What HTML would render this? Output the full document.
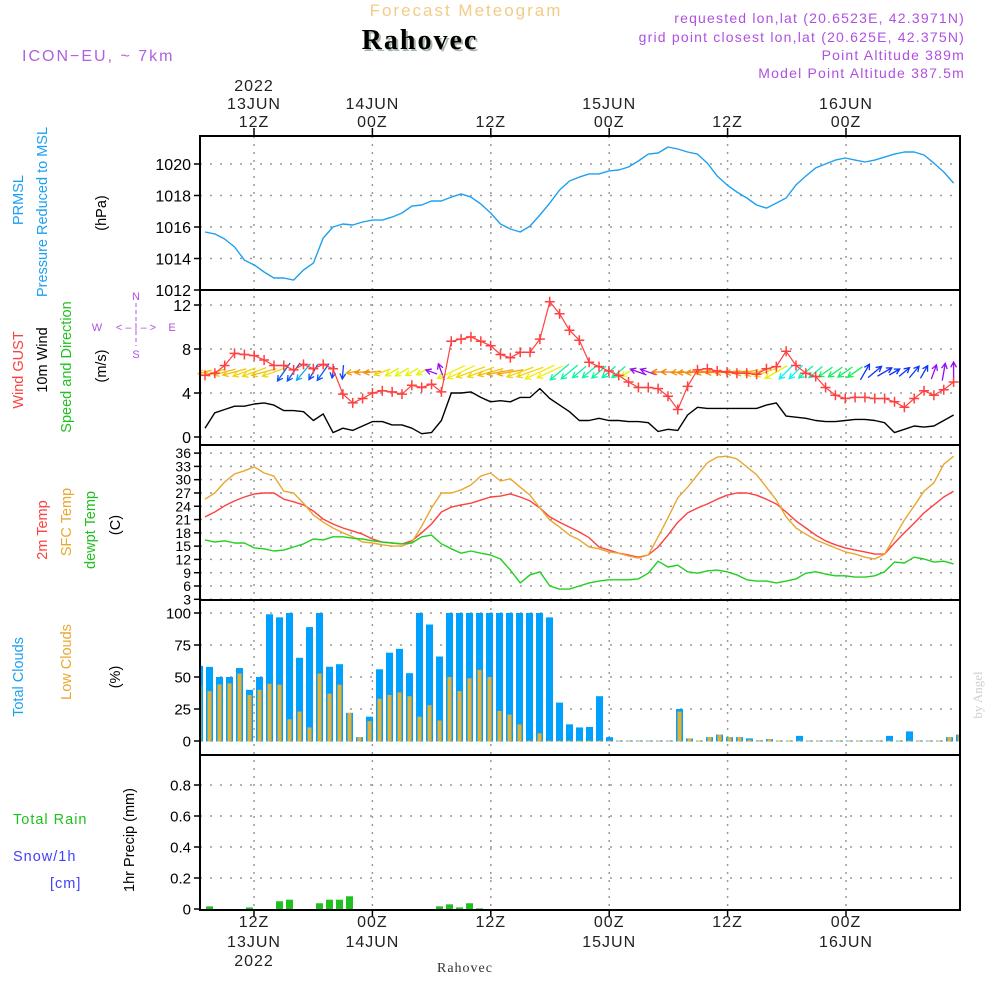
<!DOCTYPE html>
<html><head><meta charset="utf-8">
<style>
html,body{margin:0;padding:0;background:#fff;}
svg{display:block;font-family:"Liberation Sans",sans-serif;}
</style></head>
<body>
<svg id="chart" width="1000" height="1000" viewBox="0 0 1000 1000" xmlns="http://www.w3.org/2000/svg">
<g>
<text x="466" y="16" text-anchor="middle" font-size="17" fill="#f2cc88" letter-spacing="2">Forecast Meteogram</text>
<text x="422" y="51" text-anchor="middle" font-size="28" font-weight="bold" font-family="Liberation Serif,serif" fill="#a8b8a8" letter-spacing="2">Rahovec</text>
<text x="420" y="49" text-anchor="middle" font-size="28" font-weight="bold" font-family="Liberation Serif,serif" fill="#000" letter-spacing="2">Rahovec</text>
<text x="22" y="61" font-size="16" fill="#b060e0" letter-spacing="2">ICON−EU, ~ 7km</text>
<g font-size="14" fill="#b050e0" text-anchor="end" letter-spacing="1.2">
<text x="965" y="23">requested lon,lat (20.6523E, 42.3971N)</text>
<text x="965" y="42">grid point closest lon,lat (20.625E, 42.375N)</text>
<text x="965" y="60">Point Altitude 389m</text>
<text x="965" y="78">Model Point Altitude 387.5m</text>
</g>
</g>
<g id="grid"></g>
<g id="marks"></g>
<g id="axes"></g>
<g font-size="14.5">
<text transform="translate(23,200) rotate(-90)" text-anchor="middle" fill="#1ea0f0">PRMSL</text>
<text transform="translate(47,212) rotate(-90)" text-anchor="middle" fill="#1ea0f0">Pressure Reduced to MSL</text>
<text transform="translate(106,213) rotate(-90)" text-anchor="middle" fill="#000">(hPa)</text>
<text transform="translate(23,370) rotate(-90)" text-anchor="middle" fill="#ff4040">Wind GUST</text>
<text transform="translate(47,360) rotate(-90)" text-anchor="middle" fill="#000">10m Wind</text>
<text transform="translate(71,367) rotate(-90)" text-anchor="middle" fill="#20c020">Speed and Direction</text>
<text transform="translate(106,366) rotate(-90)" text-anchor="middle" fill="#000">(m/s)</text>
<g font-size="11" fill="#b050e0">
<text x="97" y="331" text-anchor="middle">W</text><text x="172" y="331" text-anchor="middle">E</text>
<text x="136" y="300" text-anchor="middle">N</text><text x="136" y="358" text-anchor="middle">S</text>
<text x="136" y="331" text-anchor="middle">&lt; – | – &gt;</text>
<line x1="136" y1="303" x2="136" y2="346" stroke="#b050e0" stroke-dasharray="4,3"/>
</g>
<text transform="translate(47,530) rotate(-90)" text-anchor="middle" fill="#ff4040">2m Temp</text>
<text transform="translate(71,522) rotate(-90)" text-anchor="middle" fill="#e8a830">SFC Temp</text>
<text transform="translate(95,530) rotate(-90)" text-anchor="middle" fill="#20c020">dewpt Temp</text>
<text transform="translate(120,525) rotate(-90)" text-anchor="middle" fill="#000">(C)</text>
<text transform="translate(23,677) rotate(-90)" text-anchor="middle" fill="#1ea0f0">Total Clouds</text>
<text transform="translate(71,662) rotate(-90)" text-anchor="middle" fill="#e8a830">Low Clouds</text>
<text transform="translate(120,677) rotate(-90)" text-anchor="middle" fill="#000">(%)</text>
<text x="13" y="824" fill="#20c020" letter-spacing="1">Total  Rain</text>
<text x="13" y="861" fill="#4040ff" letter-spacing="1">Snow/1h</text>
<text x="50" y="888" fill="#4040ff" letter-spacing="1">[cm]</text>
<text transform="translate(134,840) rotate(-90)" text-anchor="middle" fill="#000">1hr Precip (mm)</text>
<text transform="translate(982,695) rotate(-90)" text-anchor="middle" font-family="Liberation Serif,serif" font-size="13" fill="#d0d0d0">by Angel</text>
<text x="465" y="972" text-anchor="middle" font-family="Liberation Serif,serif" font-size="14" fill="#333" letter-spacing="1">Rahovec</text>
</g>
</svg>
<script>
// ---- data ----
const pressure=[1015.68,1015.56,1015.24,1014.73,1013.9,1013.59,1013.14,1012.76,1012.76,1012.63,1013.27,1013.71,1015.3,1016.0,1016.19,1016.13,1016.32,1016.44,1016.44,1016.63,1016.89,1017.33,1017.4,1017.65,1017.65,1017.9,1018.1,1017.9,1017.46,1016.89,1016.19,1015.87,1015.68,1016.06,1016.76,1017.52,1018.35,1018.92,1019.17,1019.37,1019.37,1019.56,1019.62,1019.81,1020.19,1020.63,1020.7,1021.08,1020.95,1020.76,1020.63,1020.06,1019.24,1018.67,1018.22,1017.84,1017.4,1017.2,1017.52,1017.84,1018.67,1019.24,1019.75,1020.0,1020.25,1020.38,1020.25,1020.13,1020.25,1020.44,1020.63,1020.76,1020.76,1020.57,1020.06,1019.49,1018.79];
const gust=[5.6,5.8,6.5,7.6,7.5,7.4,7.0,6.5,6.5,6.1,6.6,6.2,6.6,6.2,3.9,3.1,3.5,4.0,4.2,4.1,3.9,4.7,4.5,4.8,4.1,8.7,8.9,9.1,8.7,8.3,7.5,7.2,7.7,7.7,8.9,12.3,11.2,9.7,8.8,6.8,6.4,6.0,5.6,5.0,4.5,4.5,4.4,3.7,2.5,4.6,6.1,6.2,6.0,5.9,5.8,5.8,5.7,6.2,6.4,7.8,6.5,5.8,5.5,4.5,3.8,3.5,3.6,3.6,3.5,3.5,3.2,2.7,3.5,4.2,3.8,4.3,5.0];
const windSpeed=[0.8,2.2,2.5,2.8,2.8,3.0,3.1,2.9,2.4,2.4,2.3,1.5,2.1,0.4,0.8,0.6,1.0,1.4,1.4,1.1,1.1,0.8,0.3,0.4,1.5,4.0,4.0,4.1,3.6,3.2,3.3,3.2,3.6,3.6,4.4,3.5,2.9,2.3,1.5,1.5,1.7,1.5,1.5,1.4,1.4,1.3,0.5,0.7,0.6,2.0,2.7,2.6,2.6,2.6,2.6,2.6,2.6,2.9,3.1,1.9,1.8,1.7,1.5,1.4,1.4,1.5,1.6,1.6,1.5,1.3,0.4,0.7,1.0,0.9,1.0,1.5,2.0];
const windDir=[165,165,165,165,160,160,165,160,125,125,130,120,125,100,95,170,175,175,160,150,150,150,150,200,250,155,155,160,160,165,170,170,160,160,155,155,140,140,140,140,140,140,140,150,200,200,180,180,175,175,175,175,175,175,175,170,165,160,150,135,135,140,140,145,145,145,145,300,320,330,330,320,310,300,290,280,270];
const temp2m=[21.6,22.7,24.1,25.2,26.1,26.8,27.0,27.0,25.6,25.0,24.3,22.9,21.1,20.0,19.1,18.4,17.7,16.6,15.9,15.7,15.5,16.2,18.0,20.0,22.7,23.8,24.3,24.7,25.4,26.1,26.3,26.8,26.1,25.2,23.6,21.6,20.4,19.3,18.2,16.9,14.8,14.1,13.4,13.0,12.5,13.0,14.8,17.5,20.4,22.5,23.6,24.5,25.6,26.5,27.0,27.0,26.5,25.6,24.5,22.7,20.7,19.1,17.5,16.2,15.3,14.6,14.1,13.7,13.2,13.2,15.7,18.0,20.2,22.5,24.3,26.1,27.4];
const tempSfc=[25.6,27.0,29.5,31.3,32.0,32.9,31.5,30.8,27.4,27.0,24.7,22.0,20.4,19.1,18.0,17.1,15.9,15.7,15.3,15.0,15.0,15.9,19.5,23.6,27.0,27.0,27.7,28.8,30.8,31.5,29.7,30.2,28.3,26.5,23.6,20.9,19.3,17.5,16.4,14.8,14.4,13.7,13.4,12.8,12.3,13.0,17.1,21.4,25.9,28.3,31.1,33.8,35.1,35.3,34.7,32.9,31.1,28.3,25.4,21.6,19.1,17.7,16.4,15.5,14.6,13.7,13.2,12.5,12.1,13.2,17.1,20.9,24.1,27.4,29.3,33.5,35.3];
const dewpt=[16.4,15.9,16.2,15.7,15.7,14.6,14.4,13.9,14.1,14.8,15.5,16.6,16.4,17.1,17.1,16.8,16.6,16.2,15.9,15.7,15.5,15.7,17.1,17.5,15.5,14.4,13.4,13.9,13.4,13.0,12.1,9.6,6.7,8.5,9.2,6.0,5.3,5.3,6.0,6.7,7.1,7.4,7.4,7.4,7.6,8.9,11.6,10.3,10.7,9.2,8.9,9.4,9.6,9.2,8.5,7.4,7.1,7.1,6.7,7.1,7.6,8.9,9.2,8.7,8.3,8.3,8.0,8.0,8.3,9.2,11.4,11.2,12.5,12.1,11.4,11.6,11.0];
const totalClouds=[58.7,57.9,50,50,57,40,50,99,96.6,100,65,89,100,58,60,22,3,19,56,69,72,53,100,91,66,100,100,100,100,100,100,100,100,100,100,96.6,30,13,10.6,11,35,3,0.3,0.3,0.3,0.3,0.3,0.3,25,2,0.3,3,5,3,3,2,0.5,1.5,0.3,0.3,4,0.3,0.3,0.3,0.3,0.3,0.3,0.3,0.3,4,0.3,7.5,0.3,0.3,0.3,3,5];
const lowClouds=[43,39,44.2,45,52.7,36,40,44.7,44,17,23,10.6,52.7,37,44,22,3,15.5,33,36,38,35,19,28,16,50,39,49,55.6,50,23.5,20.7,13,0.3,6,0.3,0.3,0.3,0.3,0.3,0.3,0.3,0.3,0.3,0.3,0.3,0.3,0.3,23,2,0.3,3,5,3,3,1,0.5,1.5,0.3,0.3,0.3,0.3,0.3,0.3,0.3,0.3,0.3,0.3,0.3,0.3,0.3,0.3,0.3,0.3,0.3,3,5];
const precip=[0,0.017,0,0,0,0.01,0,0,0.05,0.06,0,0,0.037,0.06,0.06,0.082,0,0,0,0,0,0,0,0,0.017,0.03,0.01,0.037,0.004];
const pressureTicks=[1012,1014,1016,1018,1020];
const windTicks=[0,4,8,12];
const tempTicks=[3,6,9,12,15,18,21,24,27,30,33,36];
const cloudTicks=[0,25,50,75,100];
const precipTicks=[0,0.2,0.4,0.6,0.8];
const timeHours=[0,12,24,36,48,60];
const topTimeLabels=["12Z","00Z","12Z","00Z","12Z","00Z"];
const topDateLabels=["13JUN","14JUN","","15JUN","","16JUN"];

// ---- scales ----
const NS="http://www.w3.org/2000/svg";
const X0=200,X1=960;
const xLine=i=>205+9.85*i;
const xBar=i=>199.5+10*i;
const xTime=h=>254+h*(592/60);
const yP=v=>290-(v-1012)*15.75;
const yW=v=>437-v*11;
const yT=v=>586-(v-6)*4.43;
const yC=v=>741-v*1.28;
const yR=v=>909-v*155;
const panels=[[136,290],[290,445],[445,600],[600,755],[755,910]];

function mk(tag,attrs,parent){const e=document.createElementNS(NS,tag);for(const k in attrs)e.setAttribute(k,attrs[k]);parent.appendChild(e);return e;}
const grid=document.getElementById('grid'),marks=document.getElementById('marks'),axes=document.getElementById('axes');

timeHours.forEach(h=>{const x=xTime(h);
  const l=mk('line',{x1:x,x2:x,y1:136,y2:910,stroke:'#999','stroke-dasharray':'2,6','stroke-width':1.5},grid);
  
  
});
function hgrid(ticks,fy,name){ticks.forEach(t=>{const y=fy(t);
  const l=mk('line',{x1:X0,x2:X1,y1:y,y2:y,stroke:'#999','stroke-dasharray':'2,8','stroke-width':1.5},grid);
  
  
});}
hgrid(pressureTicks.slice(1),yP,'pressure-gridline');
hgrid(windTicks,yW,'wind-gridline');
hgrid(tempTicks,yT,'temp-gridline');
hgrid(cloudTicks,yC,'cloud-gridline');
hgrid(precipTicks.slice(1),yR,'precip-gridline');

function poly(arr,fy,color,name,w){const pts=arr.map((v,i)=>xLine(i).toFixed(1)+','+fy(v).toFixed(1)).join(' ');
  const p=mk('polyline',{points:pts,fill:'none',stroke:color,'stroke-width':w||1.4,'stroke-linejoin':'round'},marks);
  
  
  return p;}
poly(pressure,yP,'#1ea0f0','pressure-line');

windDir.forEach((d,i)=>{
  const len=10+5*windSpeed[i];const a=d*Math.PI/180;
  const cx=xLine(i),cy=372;
  const x1=cx-Math.cos(a)*len/2,y1=cy-Math.sin(a)*len/2,x2=cx+Math.cos(a)*len/2,y2=cy+Math.sin(a)*len/2;
  let hue;
  if(d>180) hue=d<300?275:230;
  else if(d>=150) hue=Math.max(30,40+(170-d)*1.2);
  else hue=Math.min(225,120+(150-d)*4);
  const col='hsl('+hue+',90%,50%)';
  const g=mk('g',{stroke:col,'stroke-width':1.3,fill:'none'},marks);
  
  
  mk('line',{x1:x1,y1:y1,x2:x2,y2:y2},g);
  const h1=a+Math.PI-0.5,h2=a+Math.PI+0.5;
  mk('polyline',{points:(x2+Math.cos(h1)*6)+','+(y2+Math.sin(h1)*6)+' '+x2+','+y2+' '+(x2+Math.cos(h2)*6)+','+(y2+Math.sin(h2)*6)},g);
});
poly(windSpeed,yW,'#000','wind-speed-line');
poly(gust,yW,'#ff4040','gust-line',1.2);
gust.forEach((v,i)=>{const x=xLine(i),y=yW(v);
  const m=mk('path',{d:`M${x-5},${y}H${x+5}M${x},${y-5}V${y+5}`,stroke:'#ff4040','stroke-width':1.5},marks);
  
  
});

poly(temp2m,yT,'#ff4040','temp-2m-line');
poly(tempSfc,yT,'#e8a830','temp-sfc-line');
poly(dewpt,yT,'#20d020','dewpt-line');

totalClouds.forEach((v,i)=>{const x=xBar(i);const x0=Math.max(X0+1,x-3.5),x1=Math.min(X1-1,x+3.5);
  const r=mk('rect',{x:x0,y:yC(v),width:Math.max(0,x1-x0),height:yC(0)-yC(v)+0.5,fill:'#00a0ff'},marks);
  
  
  const lv=lowClouds[i];const lx0=Math.max(X0+1,x-2),lx1=Math.min(X1-1,x+2);
  const r2=mk('rect',{x:lx0,y:yC(lv),width:Math.max(0,lx1-lx0),height:yC(0)-yC(lv)+0.5,fill:'#e8b030'},marks);
  
  
});
precip.forEach((v,i)=>{if(v<=0)return;const x=xBar(i);
  const r=mk('rect',{x:x-3.5,y:yR(v),width:7,height:yR(0)-yR(v),fill:'#20c020'},marks);
  
  
});

panels.forEach(([a,b])=>{const r=mk('rect',{x:X0,y:a,width:X1-X0,height:b-a,fill:'none',stroke:'#000','stroke-width':2},axes);
  
  
});
function yticks(ticks,fy,fmt,fs,name){ticks.forEach(t=>{const y=fy(t);
  mk('line',{x1:X0-6,x2:X0,y1:y,y2:y,stroke:'#000','stroke-width':1.5},axes);
  const tx=mk('text',{x:X0-9,y:y+fs*0.36,'text-anchor':'end','font-size':fs,fill:'#000'},axes);
  tx.textContent=fmt(t);
  
  
});}
yticks(pressureTicks,yP,t=>t,16,'pressure-tick-label');
yticks(windTicks,yW,t=>t,16,'wind-tick-label');
yticks(tempTicks,yT,t=>t,14,'temp-tick-label');
yticks(cloudTicks,yC,t=>t,15,'cloud-tick-label');
yticks(precipTicks,yR,t=>t===0?'0':t.toFixed(1),15,'precip-tick-label');

timeHours.forEach((h,k)=>{const x=xTime(h);
  mk('line',{x1:x,x2:x,y1:128,y2:136,stroke:'#000','stroke-width':1.5},axes);
  mk('line',{x1:x,x2:x,y1:910,y2:917,stroke:'#000','stroke-width':1.5},axes);
  const t1=mk('text',{x:x,y:127,'text-anchor':'middle','font-size':16,'letter-spacing':1,fill:'#222'},axes);
  t1.textContent=topTimeLabels[k];
  
  
  const b1=mk('text',{x:x,y:927,'text-anchor':'middle','font-size':16,'letter-spacing':1,fill:'#222'},axes);
  b1.textContent=topTimeLabels[k];
  
  
  if(topDateLabels[k]){
    const t2=mk('text',{x:x,y:109,'text-anchor':'middle','font-size':16,'letter-spacing':1,fill:'#222'},axes);
    t2.textContent=topDateLabels[k];
    
    
    const b2=mk('text',{x:x,y:947,'text-anchor':'middle','font-size':16,'letter-spacing':1,fill:'#222'},axes);
    b2.textContent=topDateLabels[k];
    
    
  }
  if(k===0){
    const y1=mk('text',{x:x,y:91,'text-anchor':'middle','font-size':16,'letter-spacing':1,fill:'#222'},axes);
    y1.textContent='2022';
    
    
    const y2=mk('text',{x:x,y:966,'text-anchor':'middle','font-size':16,'letter-spacing':1,fill:'#222'},axes);
    y2.textContent='2022';
    
    
  }
});
</script>
</body></html>
